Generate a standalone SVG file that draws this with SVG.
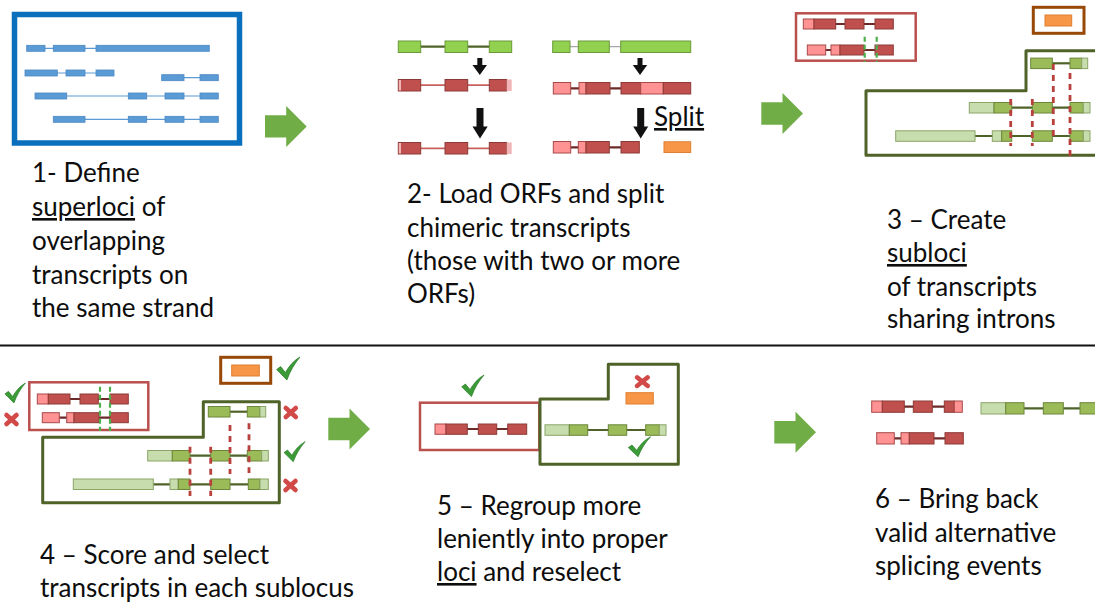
<svg xmlns="http://www.w3.org/2000/svg" xmlns:xlink="http://www.w3.org/1999/xlink" width="1095" height="603" viewBox="0 0 1095 603">
  <style>
    .txt { font-family: Lato, "Open Sans", "Liberation Sans", sans-serif; font-size: 26px; fill: #0d0d0d; }
    .u { text-decoration: underline; }
    .dr { fill: #c0504d; stroke: #8c3a38; stroke-width: 1; }
    .pk { fill: #ff9393; stroke: #a8494a; stroke-width: 1; }
    .lp { fill: #f2b4b4; stroke: none; }
    .gr { fill: #9bbb59; stroke: #6b8638; stroke-width: 1; }
    .lg { fill: #c8ddae; stroke: #8aa566; stroke-width: 1; }
    .bg { fill: #92d050; stroke: #6a9a38; stroke-width: 1; }
    .bl { fill: #5b9bd5; stroke: #4a88c4; stroke-width: 0.8; }
    .or { fill: #f79646; stroke: #e07f30; stroke-width: 1; }
    .ri { stroke: #6b2a28; stroke-width: 2.2; fill: none; }
    .rl { stroke: #c8605d; stroke-width: 1.8; fill: none; }
    .gi { stroke: #4f6228; stroke-width: 2.2; fill: none; }
    .gy { stroke: #a6a6a6; stroke-width: 1.2; fill: none; }
    .bi { stroke: #5b9bd5; stroke-width: 1.2; fill: none; }
    .rdash { stroke: #b8403d; stroke-width: 2.8; stroke-dasharray: 6 5; fill: none; }
    .gdash { stroke: #4cb04c; stroke-width: 2.2; stroke-dasharray: 5 3; fill: none; }
    .rbox { fill: #fff; stroke: #b9504e; stroke-width: 2.5; }
    .obox { fill: #fff; stroke: #984807; stroke-width: 3; }
    .gbox { fill: none; stroke: #4f6228; stroke-width: 3; stroke-linejoin: round; }
    .garrow { fill: #70ad47; }
    .karrow { fill: #111; }
  </style>
  <defs>
    <!-- block arrow, tip at origin -->
    <path id="blockArrow" d="M-41.7,-11.2 H-20.5 V-20.5 L0,0 L-20.5,20.5 V11.2 H-41.7 Z"/>
    <!-- tick mark, 24 x 23 box -->
    <path id="tick" d="M0,12.5 L4,9.6 L9,15.6 C12.5,9.5 17,4 24,0 C18.5,6.5 14,13.5 10.5,23 Z" fill="#3a9b37" stroke="#2d7d2b" stroke-width="0.8"/>
    <!-- cross mark, 15 x 14 box -->
    <g id="cross" stroke="#d24a48" stroke-width="4.6" stroke-linecap="round">
      <line x1="2.5" y1="2.5" x2="12.5" y2="11.5"/>
      <line x1="12.5" y1="2.5" x2="2.5" y2="11.5"/>
    </g>
  </defs>

  <rect width="1095" height="603" fill="#fff"/>

  <!-- step 1: superloci -->
  <g id="step1">
    <rect x="14.5" y="14.5" width="225" height="128.5" fill="#fff" stroke="#0a6fbd" stroke-width="5.5"/>
    <line class="bi" x1="27" y1="48.3" x2="209" y2="48.3"/>
    <rect class="bl" x="26.7" y="45.3" width="18.3" height="6"/>
    <rect class="bl" x="53.3" y="45.3" width="31.7" height="6"/>
    <rect class="bl" x="96" y="45.3" width="113.3" height="6"/>
    <line class="bi" x1="25" y1="73" x2="114" y2="73"/>
    <rect class="bl" x="25" y="70" width="32.3" height="6"/>
    <rect class="bl" x="66" y="70" width="19" height="6"/>
    <rect class="bl" x="96" y="70" width="18" height="6"/>
    <line class="bi" x1="162" y1="77.7" x2="218" y2="77.7"/>
    <rect class="bl" x="161.7" y="74.7" width="22.3" height="6"/>
    <rect class="bl" x="200" y="74.7" width="18.3" height="6"/>
    <line class="bi" x1="35" y1="96" x2="218" y2="96"/>
    <rect class="bl" x="35" y="93" width="31.7" height="6"/>
    <rect class="bl" x="128.3" y="93" width="18.4" height="6"/>
    <rect class="bl" x="165" y="93" width="19" height="6"/>
    <rect class="bl" x="200" y="93" width="18.3" height="6"/>
    <line class="bi" x1="54" y1="119.3" x2="218" y2="119.3"/>
    <rect class="bl" x="53.3" y="116.3" width="31.7" height="6"/>
    <rect class="bl" x="128.3" y="116.3" width="18.4" height="6"/>
    <rect class="bl" x="165" y="116.3" width="19" height="6"/>
    <rect class="bl" x="200" y="116.3" width="18.3" height="6"/>
    <text class="txt" x="32" y="182">1- Define</text>
    <text class="txt" x="32" y="216"><tspan class="u">superloci</tspan> of</text>
    <text class="txt" x="32" y="250">overlapping</text>
    <text class="txt" x="32" y="283.5">transcripts on</text>
    <text class="txt" x="32" y="317">the same strand</text>
  </g>

  <!-- step 2: ORF loading and chimera splitting -->
  <g id="step2">
    <!-- left: single ORF -->
    <line class="gi" x1="420" y1="46.7" x2="490" y2="46.7"/>
    <rect class="bg" x="398.3" y="41" width="22.4" height="11.5"/>
    <rect class="bg" x="445" y="41" width="22.7" height="11.5"/>
    <rect class="bg" x="489.3" y="41" width="22.4" height="11.5"/>

    <line class="rl" x1="420" y1="85.2" x2="490" y2="85.2"/>
    <rect class="dr" x="398.3" y="79.5" width="22.4" height="11.5"/>
    <rect class="lp" x="398.8" y="80" width="2.2" height="10.5"/>
    <rect class="dr" x="445" y="79.5" width="22.7" height="11.5"/>
    <rect class="dr" x="489.3" y="79.5" width="17.4" height="11.5"/>
    <rect class="lp" x="506.7" y="79.5" width="5" height="11.5" stroke="#a8494a" stroke-width="1"/>

    <line class="rl" x1="420" y1="148.3" x2="490" y2="148.3"/>
    <rect class="dr" x="398.3" y="142.5" width="22.4" height="11.5"/>
    <rect class="lp" x="398.8" y="143" width="2.2" height="10.5"/>
    <rect class="dr" x="445" y="142.5" width="22.7" height="11.5"/>
    <rect class="dr" x="489.3" y="142.5" width="17.4" height="11.5"/>
    <rect class="lp" x="506.7" y="142.5" width="5" height="11.5" stroke="#a8494a" stroke-width="1"/>

    <!-- right: two ORFs -->
    <line class="gy" x1="570" y1="46.7" x2="621" y2="46.7"/>
    <rect class="bg" x="552.7" y="41" width="17.3" height="11.5"/>
    <rect class="bg" x="578.3" y="41" width="31" height="11.5"/>
    <rect class="bg" x="620.7" y="41" width="70" height="11.5"/>

    <line class="ri" x1="570" y1="88.3" x2="621" y2="88.3"/>
    <rect class="pk" x="553.3" y="82.5" width="17.4" height="11.5"/>
    <rect class="pk" x="579" y="82.5" width="7" height="11.5"/>
    <rect class="dr" x="586" y="82.5" width="24" height="11.5"/>
    <rect class="dr" x="621" y="82.5" width="19.7" height="11.5"/>
    <rect class="pk" x="640.7" y="82.5" width="22.6" height="11.5"/>
    <rect class="dr" x="663.3" y="82.5" width="27.4" height="11.5"/>

    <line class="ri" x1="570" y1="147.3" x2="621" y2="147.3"/>
    <rect class="pk" x="553.3" y="141.5" width="17.4" height="11.5"/>
    <rect class="pk" x="578.3" y="141.5" width="7.7" height="11.5"/>
    <rect class="dr" x="586" y="141.5" width="23.3" height="11.5"/>
    <rect class="dr" x="621" y="141.5" width="18.3" height="11.5"/>
    <rect class="or" x="664" y="141.8" width="26.7" height="10.7"/>

    <text class="txt" x="654" y="126" font-size="30"><tspan class="u">Split</tspan></text>

    <text class="txt" x="407" y="203.3">2- Load ORFs and split</text>
    <text class="txt" x="407" y="236.7">chimeric transcripts</text>
    <text class="txt" x="407" y="270">(those with two or more</text>
    <text class="txt" x="407" y="303.3">ORFs)</text>
  </g>

  <!-- step 3: subloci -->
  <g id="step3">
    <rect class="rbox" x="796" y="13.3" width="119.7" height="47.4"/>
    <line class="ri" x1="835" y1="24" x2="876" y2="24"/>
    <rect class="pk" x="803.3" y="19" width="10.7" height="10"/>
    <rect class="dr" x="814" y="19" width="21.7" height="10"/>
    <rect class="dr" x="845" y="19" width="19" height="10"/>
    <rect class="dr" x="875" y="19" width="18.3" height="10"/>
    <line class="ri" x1="825" y1="50" x2="876" y2="50"/>
    <rect class="pk" x="807.3" y="45" width="18.4" height="10"/>
    <rect class="pk" x="831" y="45" width="9" height="10"/>
    <rect class="dr" x="840" y="45" width="24" height="10"/>
    <rect class="dr" x="875" y="45" width="18.3" height="10"/>
    <line class="gdash" x1="864.7" y1="36.7" x2="864.7" y2="62"/>
    <line class="gdash" x1="876.7" y1="36.7" x2="876.7" y2="62"/>

    <rect class="obox" x="1033.3" y="7.3" width="50.7" height="26"/>
    <rect class="or" x="1045" y="15" width="26.7" height="11"/>

    <path class="gbox" d="M1098,50.7 H1026 V90.7 H866 V155.3 H1098"/>
    <line class="gi" x1="1052" y1="63.3" x2="1070" y2="63.3"/>
    <rect class="gr" x="1030.7" y="58.1" width="21.6" height="10.5"/>
    <rect class="gr" x="1070" y="58.1" width="11.7" height="10.5"/>
    <rect class="lg" x="1081.7" y="58.1" width="6" height="10.5"/>

    <line class="gi" x1="1011" y1="107.7" x2="1070" y2="107.7"/>
    <rect class="lg" x="969.3" y="102.5" width="24.7" height="10.5"/>
    <rect class="gr" x="994" y="102.5" width="17.7" height="10.5"/>
    <rect class="gr" x="1032.3" y="102.5" width="20" height="10.5"/>
    <rect class="gr" x="1070" y="102.5" width="13.3" height="10.5"/>
    <rect class="lg" x="1083.3" y="102.5" width="6.7" height="10.5"/>

    <line class="gi" x1="975" y1="136" x2="1070" y2="136"/>
    <rect class="lg" x="895.7" y="130.8" width="79.3" height="10.5"/>
    <rect class="lg" x="992.3" y="130.8" width="9.4" height="10.5"/>
    <rect class="gr" x="1001.7" y="130.8" width="10" height="10.5"/>
    <rect class="gr" x="1032.3" y="130.8" width="20" height="10.5"/>
    <rect class="gr" x="1070" y="130.8" width="13.3" height="10.5"/>
    <rect class="lg" x="1083.3" y="130.8" width="6.7" height="10.5"/>

    <line class="rdash" x1="1010.7" y1="99" x2="1010.7" y2="146"/>
    <line class="rdash" x1="1032.3" y1="99" x2="1032.3" y2="146"/>
    <line class="rdash" x1="1053.3" y1="64" x2="1053.3" y2="141"/>
    <line class="rdash" x1="1070" y1="73" x2="1070" y2="156"/>

    <text class="txt" x="887" y="229">3 – Create</text>
    <text class="txt" x="887" y="262"><tspan class="u">subloci</tspan></text>
    <text class="txt" x="887" y="295.5">of transcripts</text>
    <text class="txt" x="887" y="328">sharing introns</text>
  </g>

  <line id="divider" x1="0" y1="345.5" x2="1095" y2="345.5" stroke="#111" stroke-width="2"/>

  <!-- step 4: scoring within each sublocus -->
  <g id="step4">
    <rect class="obox" x="220.7" y="357.3" width="50" height="26"/>
    <rect class="or" x="231.7" y="365" width="27.6" height="11"/>

    <rect class="rbox" x="29.3" y="382.3" width="119" height="47.7"/>
    <line class="ri" x1="70" y1="399" x2="110" y2="399"/>
    <rect class="pk" x="37.3" y="394" width="11" height="10"/>
    <rect class="dr" x="48.3" y="394" width="21.7" height="10"/>
    <rect class="dr" x="80" y="394" width="18.3" height="10"/>
    <rect class="dr" x="110" y="394" width="18.3" height="10"/>
    <line class="ri" x1="59" y1="417.7" x2="110" y2="417.7"/>
    <rect class="pk" x="42.3" y="412.7" width="17" height="10"/>
    <rect class="pk" x="66.7" y="412.7" width="7.3" height="10"/>
    <rect class="dr" x="74" y="412.7" width="25" height="10"/>
    <rect class="dr" x="110" y="412.7" width="18.3" height="10"/>
    <line class="gdash" x1="100" y1="386.7" x2="100" y2="431"/>
    <line class="gdash" x1="110" y1="386.7" x2="110" y2="431"/>

    <path class="gbox" d="M203.3,401.7 H279.3 V502.7 H42.7 V437.3 H203.3 Z"/>
    <line class="gi" x1="230" y1="411.7" x2="247.3" y2="411.7"/>
    <rect class="gr" x="208.3" y="406.5" width="21.7" height="10.5"/>
    <rect class="gr" x="247.3" y="406.5" width="12.7" height="10.5"/>
    <rect class="lg" x="260" y="406.5" width="5.7" height="10.5"/>

    <line class="gi" x1="190" y1="455.7" x2="247.3" y2="455.7"/>
    <rect class="lg" x="147.7" y="450.5" width="24.6" height="10.5"/>
    <rect class="gr" x="172.3" y="450.5" width="17.7" height="10.5"/>
    <rect class="gr" x="210.7" y="450.5" width="19.3" height="10.5"/>
    <rect class="gr" x="247.3" y="450.5" width="14.4" height="10.5"/>
    <rect class="lg" x="261.7" y="450.5" width="6.6" height="10.5"/>

    <line class="gi" x1="153" y1="484.3" x2="248.3" y2="484.3"/>
    <rect class="lg" x="73.3" y="479" width="80" height="10.5"/>
    <rect class="lg" x="170" y="479" width="8.3" height="10.5"/>
    <rect class="gr" x="178.3" y="479" width="11.7" height="10.5"/>
    <rect class="gr" x="210.7" y="479" width="19.3" height="10.5"/>
    <rect class="gr" x="248.3" y="479" width="11.7" height="10.5"/>
    <rect class="lg" x="260" y="479" width="8.3" height="10.5"/>

    <line class="rdash" x1="190" y1="446.7" x2="190" y2="496"/>
    <line class="rdash" x1="210.7" y1="446.7" x2="210.7" y2="496"/>
    <line class="rdash" x1="230" y1="425" x2="230" y2="474"/>
    <line class="rdash" x1="249" y1="423.3" x2="249" y2="473"/>

    <use xlink:href="#tick" transform="translate(276.7,357) scale(0.97,1)"/>
    <use xlink:href="#tick" transform="translate(5,383) scale(0.85,0.87)"/>
    <use xlink:href="#tick" transform="translate(284,441.7) scale(0.88,0.87)"/>
    <use xlink:href="#cross" transform="translate(4,412.5)"/>
    <use xlink:href="#cross" transform="translate(283.3,405.5)"/>
    <use xlink:href="#cross" transform="translate(283,478.5)"/>

    <text class="txt" x="40" y="564">4 – Score and select</text>
    <text class="txt" x="40" y="597">transcripts in each sublocus</text>
  </g>

  <!-- step 5: loci regrouping -->
  <g id="step5">
    <rect class="rbox" x="420" y="402.7" width="119.3" height="47.3"/>
    <line class="ri" x1="467" y1="429" x2="508" y2="429"/>
    <rect class="pk" x="435" y="424" width="11" height="10.3"/>
    <rect class="dr" x="446" y="424" width="21.3" height="10.3"/>
    <rect class="dr" x="478.3" y="424" width="18.4" height="10.3"/>
    <rect class="dr" x="507.7" y="424" width="19" height="10.3"/>
    <use xlink:href="#tick" transform="translate(461.7,375) scale(0.93,0.94)"/>

    <path class="gbox" d="M608.3,364.3 H678.3 V464.3 H540 V399 H608.3 Z"/>
    <use xlink:href="#cross" transform="translate(634.5,375) scale(1.05,0.95)"/>
    <rect class="or" x="626" y="392.7" width="27.3" height="11.3"/>
    <line class="gi" x1="587" y1="430" x2="646" y2="430"/>
    <rect class="lg" x="545" y="424.8" width="24.3" height="10.5"/>
    <rect class="gr" x="569.3" y="424.8" width="18.4" height="10.5"/>
    <rect class="gr" x="608.3" y="424.8" width="18.4" height="10.5"/>
    <rect class="gr" x="645.7" y="424.8" width="13.6" height="10.5"/>
    <rect class="lg" x="659.3" y="424.8" width="6.7" height="10.5"/>
    <use xlink:href="#tick" transform="translate(628.3,436.7) scale(0.93,0.87)"/>

    <text class="txt" x="437" y="515">5 – Regroup more</text>
    <text class="txt" x="437" y="548">leniently into proper</text>
    <text class="txt" x="437" y="581"><tspan class="u">loci</tspan> and reselect</text>
  </g>

  <!-- step 6: alternative splicing events -->
  <g id="step6">
    <line class="ri" x1="904" y1="406.7" x2="945" y2="406.7"/>
    <rect class="pk" x="871.7" y="401" width="10.6" height="11.3"/>
    <rect class="dr" x="882.3" y="401" width="22" height="11.3"/>
    <rect class="dr" x="913.3" y="401" width="19" height="11.3"/>
    <rect class="dr" x="944.3" y="401" width="10" height="11.3"/>
    <rect class="pk" x="954.3" y="401" width="8" height="11.3"/>

    <line class="ri" x1="894" y1="438.3" x2="945" y2="438.3"/>
    <rect class="pk" x="876.7" y="432.7" width="17.6" height="11.3"/>
    <rect class="pk" x="901" y="432.7" width="8.3" height="11.3"/>
    <rect class="dr" x="909.3" y="432.7" width="24.7" height="11.3"/>
    <rect class="dr" x="945" y="432.7" width="18.3" height="11.3"/>

    <line class="gi" x1="1024" y1="408.3" x2="1080" y2="408.3"/>
    <rect class="lg" x="981" y="402.7" width="24.7" height="11.3"/>
    <rect class="gr" x="1005.7" y="402.7" width="18.3" height="11.3"/>
    <rect class="gr" x="1043.3" y="402.7" width="20" height="11.3"/>
    <rect class="gr" x="1080" y="402.7" width="17" height="11.3"/>

    <text class="txt" x="875" y="508">6 – Bring back</text>
    <text class="txt" x="875" y="541.5">valid alternative</text>
    <text class="txt" x="875" y="575">splicing events</text>
  </g>

  <!-- arrows between and within steps -->
  <g id="connectors">
    <use xlink:href="#blockArrow" class="garrow" transform="translate(306.7,126.4)"/>
    <use xlink:href="#blockArrow" class="garrow" transform="translate(803,113.5)"/>
    <use xlink:href="#blockArrow" class="garrow" transform="translate(370,429)"/>
    <use xlink:href="#blockArrow" class="garrow" transform="translate(816,432.3)"/>
    <!-- black arrows inside step 2 -->
    <path class="karrow" d="M477.3,58 H482.3 V65 H487 L479.8,75 L472.5,65 H477.3 Z"/>
    <path class="karrow" d="M476.5,108 H483.5 V126.5 H487.7 L480,138.5 L472.5,126.5 H476.5 Z"/>
    <path class="karrow" d="M637.5,58 H642.5 V65 H647.2 L640,75 L632.8,65 H637.5 Z"/>
    <path class="karrow" d="M637.2,108 H644.2 V126.5 H648.2 L640.7,138.5 L633.2,126.5 H637.2 Z"/>
  </g>
</svg>
